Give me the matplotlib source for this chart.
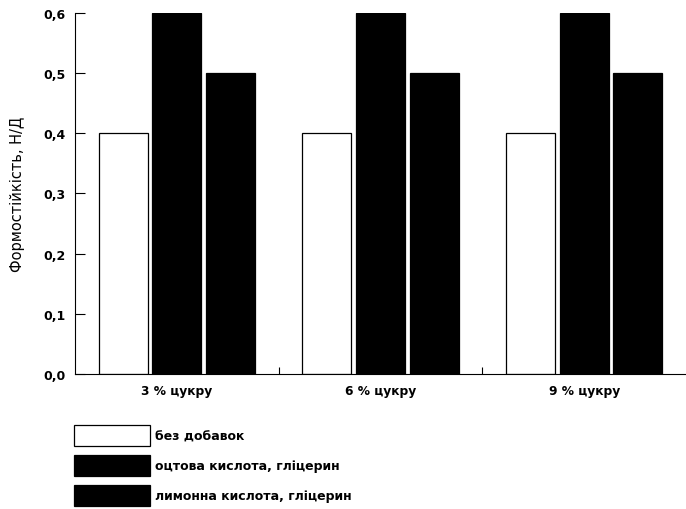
import numpy as np
import matplotlib.pyplot as plt
from matplotlib.patches import Patch

groups = ['3 % цукру', '6 % цукру', '9 % цукру']
series = ['без добавок', 'оцтова кислота, гліцерин', 'лимонна кислота, гліцерин']
values = [
    [0.4, 0.4, 0.4],
    [0.6, 0.6, 0.6],
    [0.5, 0.5, 0.5],
]
colors = ['white', 'black', 'black']
yticks = [0.0, 0.1, 0.2, 0.3, 0.4, 0.5, 0.6]

plt.rcParams['font.family'] = ['DejaVu Sans']

fig = plt.figure(figsize=(6.86, 5.10), dpi=100)
ax = fig.add_axes([75 / 686, 1 - 375 / 510, 611 / 686, 361 / 510])

x = np.arange(len(groups))
width = 0.24
offsets = [-0.263, 0.0, 0.263]
for i in range(len(series)):
    ax.bar(x + offsets[i], values[i], width, color=colors[i],
           edgecolor='black', linewidth=0.9, label=series[i])

ax.set_xlim(-0.5, 2.5)
ax.set_ylim(0, 0.6)
ax.set_yticks(yticks)
ax.set_yticklabels([('%.1f' % v).replace('.', ',') for v in yticks],
                   fontsize=9, fontweight='bold')
ax.tick_params(axis='y', direction='in', length=7, width=0.8, pad=7)

ax.set_xticks([0.5, 1.5])
ax.set_xticklabels([])
ax.tick_params(axis='x', direction='in', length=5, width=0.8)
for xi, g in zip(x, groups):
    ax.text(xi, -0.027, g, ha='center', va='center', fontsize=8.8,
            fontweight='bold', transform=ax.transData)

for s in ['top', 'right']:
    ax.spines[s].set_visible(False)
ax.spines['left'].set_linewidth(0.8)
ax.spines['bottom'].set_linewidth(0.8)

ax.set_ylabel('Формостійкість, Н/Д', fontsize=10.5)
ax.yaxis.set_label_coords(-0.082, 0.5)

handles = [Patch(facecolor=c, edgecolor='black', linewidth=0.9) for c in colors]
fig.legend(handles, series, loc='upper left', bbox_to_anchor=(74 / 686, 1 - 426 / 510),
           frameon=False, prop={'weight': 'bold', 'size': 9},
           handlelength=6.1, handleheight=2.2, handletextpad=0.35,
           labelspacing=0.72, borderpad=0, borderaxespad=0)

fig.savefig('out.png', dpi=100)
